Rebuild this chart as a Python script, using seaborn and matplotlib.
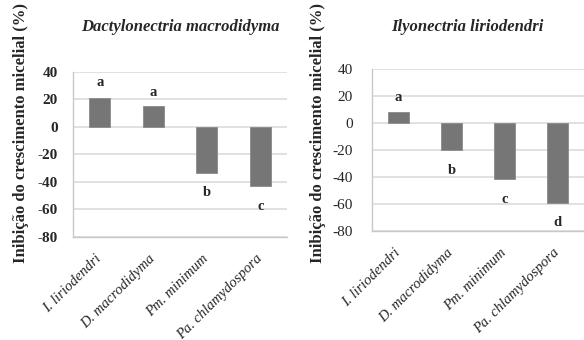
import pandas as pd
import matplotlib.pyplot as plt
import seaborn as sns

sns.set_style('white')
plt.rcParams['font.family'] = ['Liberation Serif', 'DejaVu Serif']
plt.rcParams['axes.unicode_minus'] = False

# dados
isolados = ['I. liriodendri', 'D. macrodidyma', 'Pm. minimum', 'Pa. chlamydospora']
dactylo = [21, 15, -33.8, -42.8]
ilyo = [8, -20.3, -41.5, -59]
letras_dactylo = ['a', 'a', 'b', 'c']
letras_ilyo = ['a', 'b', 'c', 'd']
pos_dactylo = [32, 25, -48, -58]
pos_ilyo = [19, -35, -57, -74]

titulos = ['Dactylonectria macrodidyma', 'Ilyonectria liriodendri']
ylabel = 'Inibição do crescimento micelial (%)'

fig = plt.figure(figsize=(5.84, 3.4), dpi=100)
ax1 = fig.add_axes([73 / 584, 1 - 237 / 340, 214 / 584, 165 / 340])
ax2 = fig.add_axes([372 / 584, 1 - 231 / 340, 212 / 584, 162 / 340])

paineis = [
    (ax1, dactylo, letras_dactylo, pos_dactylo, 'bold', 11),
    (ax2, ilyo, letras_ilyo, pos_ilyo, 'normal', 14),
]

for ax, valores, letras, pos, peso, pad in paineis:
    df = pd.DataFrame({'Isolado': isolados, 'Inibicao': valores})
    sns.barplot(data=df, x='Isolado', y='Inibicao', ax=ax, color='#767676',
                width=0.4, edgecolor='#8a8a8a', linewidth=0.6, saturation=1)
    ax.set_ylim(-80, 40)
    ax.set_xlim(-0.5, 3.5)
    ax.set_yticks(range(-80, 41, 20))
    ax.grid(axis='y', color='#d9d9d9', linewidth=1.1)
    ax.set_axisbelow(True)
    for s in ['top', 'right']:
        ax.spines[s].set_visible(False)
    for s in ['left', 'bottom']:
        ax.spines[s].set_color('#c8c8c8')
        ax.spines[s].set_linewidth(1)
    ax.tick_params(axis='y', length=0, pad=pad, labelsize=11)
    ax.tick_params(axis='x', length=0, pad=14)
    for lbl in ax.get_yticklabels():
        lbl.set_fontweight(peso)
    ax.set_xticks(range(len(isolados)))
    ax.set_xticklabels(isolados, rotation=45, ha='right', va='center',
                       rotation_mode='anchor', fontstyle='italic', fontsize=10.5)
    ax.set_xlabel('')
    ax.set_ylabel('')
    for i, (l, y) in enumerate(zip(letras, pos)):
        ax.text(i, y, l, ha='center', va='center', fontweight='bold', fontsize=10.5)

fig.text(180 / 584, 1 - 27 / 340, titulos[0], ha='center', va='center',
         fontsize=12, fontweight='bold', fontstyle='italic')
fig.text(467 / 584, 1 - 27 / 340, titulos[1], ha='center', va='center',
         fontsize=12, fontweight='bold', fontstyle='italic')
fig.text(21 / 584, 1 - 133 / 340, ylabel, rotation=90, ha='center', va='center',
         fontsize=12, fontweight='bold')
fig.text(318 / 584, 1 - 133 / 340, ylabel, rotation=90, ha='center', va='center',
         fontsize=12, fontweight='bold')

fig.savefig('out.png', dpi=100)
